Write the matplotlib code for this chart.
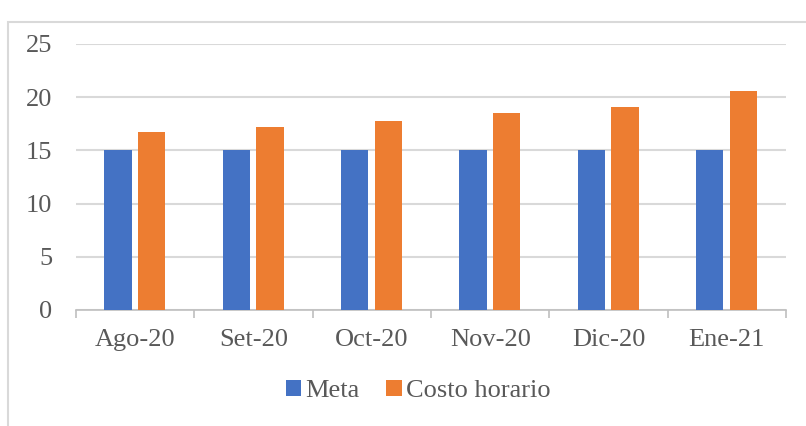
import matplotlib
matplotlib.use("Agg")
import matplotlib.pyplot as plt
import numpy as np
from matplotlib.patches import Rectangle

categories = ["Ago-20", "Set-20", "Oct-20", "Nov-20", "Dic-20", "Ene-21"]
meta = [15, 15, 15, 15, 15, 15]
costo = [16.7, 17.2, 17.8, 18.5, 19.1, 20.6]
yticks = [0, 5, 10, 15, 20, 25]

plt.rcParams['font.family'] = ['Liberation Serif', 'DejaVu Serif']
txt = '#595959'
fs = 19

fig = plt.figure(figsize=(8.06, 4.26), dpi=100)
W, H = 806, 426
ax = fig.add_axes([76 / W, 1 - 310 / H, (786 - 76) / W, (310 - 44) / H])

x = np.arange(len(categories))
bw = 0.23
ax.bar(x - 0.145, meta, bw, color='#4472C4', label='Meta', zorder=3)
ax.bar(x + 0.14, costo, bw, color='#ED7D31', label='Costo horario', zorder=3)

ax.set_xlim(-0.5, len(categories) - 0.5)
ax.set_ylim(0, 25)
ax.set_yticks(yticks)
ax.set_yticklabels([str(v) for v in yticks])
ax.yaxis.grid(True, color='#d9d9d9', linewidth=1.5, zorder=0)
ax.set_axisbelow(True)
for s in ['top', 'right', 'left']:
    ax.spines[s].set_visible(False)
ax.spines['bottom'].set_color('#bfbfbf')
ax.spines['bottom'].set_linewidth(1.2)
ax.tick_params(axis='y', length=0, labelsize=fs, labelcolor=txt, pad=17)
ax.set_xticks(x)
ax.set_xticklabels(categories)
ax.tick_params(axis='x', length=0, labelsize=fs, labelcolor=txt, pad=14)
ax.set_xticks(np.arange(-0.5, len(categories), 1), minor=True)
ax.tick_params(axis='x', which='minor', length=6, color='#bfbfbf', width=1.2)

leg = fig.legend(loc='center', bbox_to_anchor=(418 / W, 1 - 391 / H), ncol=2,
                 frameon=False, fontsize=fs, handlelength=0.6, handleheight=0.6,
                 handletextpad=0.15, columnspacing=1.0)
for t in leg.get_texts():
    t.set_color(txt)

fig.patches.append(Rectangle((8 / W, -0.1), 1.2, 1 - 22 / H + 0.1, transform=fig.transFigure,
                             fill=False, edgecolor='#d9d9d9', linewidth=1.5))

fig.savefig('out.png', dpi=100)
